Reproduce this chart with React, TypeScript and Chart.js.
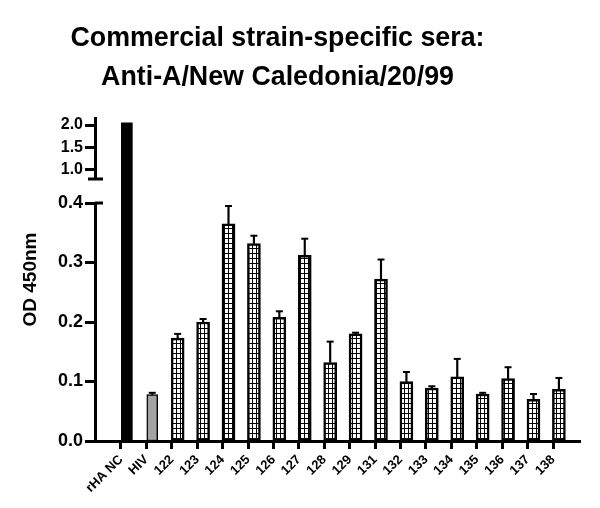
import React, { useEffect, useRef } from 'react';
import { Chart, registerables, LinearScale } from 'chart.js';

Chart.register(...registerables);

// ---------- data ----------
const TITLE_LINES = ['Commercial strain-specific sera:', 'Anti-A/New Caledonia/20/99'];
const Y_TITLE = 'OD 450nm';
const CATEGORIES = ['rHA NC', 'HIV', '122', '123', '124', '125', '126', '127', '128', '129', '131', '132', '133', '134', '135', '136', '137', '138'];
const MEANS = [2.05, 0.078, 0.173, 0.2, 0.365, 0.332, 0.208, 0.312, 0.132, 0.18, 0.272, 0.1, 0.089, 0.108, 0.079, 0.105, 0.07, 0.087];
const ERRORS = [0, 0.003, 0.007, 0.005, 0.03, 0.013, 0.01, 0.028, 0.035, 0.002, 0.033, 0.016, 0.003, 0.03, 0.002, 0.019, 0.009, 0.019];
const LOWER_TICKS = [0, 0.1, 0.2, 0.3, 0.4];
const UPPER_TICKS = [1.0, 1.5, 2.0];
const LOWER_RANGE = [0, 0.4];
const UPPER_RANGE = [0.78, 2.16];
const X_RANGE = [-1.023, 18.06];

const FONT = '"Liberation Sans", Arial, sans-serif';
const BAR_SHIFT = 0.23;

// piecewise scale mapping across the axis break
class BrokenScale extends LinearScale {
  static id = 'broken';
  static defaults = LinearScale.defaults;
  getPixelForValue(value: number) {
    const lo: any = (this as any).chart.scales.yLow;
    const hi: any = (this as any).chart.scales.yHigh;
    if (!lo || !hi) return super.getPixelForValue(value);
    if (value <= lo.max) return lo.getPixelForValue(value);
    if (value >= hi.min) return hi.getPixelForValue(value);
    const t = (value - lo.max) / (hi.min - lo.max);
    return lo.top + t * (hi.bottom - lo.top);
  }
}
Chart.register(BrokenScale as any);

function makeGridPattern(ctx: CanvasRenderingContext2D) {
  const c = document.createElement('canvas');
  c.width = 4;
  c.height = 5;
  const g = c.getContext('2d')!;
  g.fillStyle = '#ffffff';
  g.fillRect(0, 0, 4, 5);
  g.fillStyle = '#000000';
  g.fillRect(0, 0, 4, 1);
  g.fillRect(0, 0, 1, 5);
  return ctx.createPattern(c, 'repeat');
}

const titlePlugin = {
  id: 'offsetTitle',
  afterDraw(chart: any) {
    const ctx = chart.ctx;
    ctx.save();
    ctx.font = `bold 26.8px ${FONT}`;
    ctx.fillStyle = '#000';
    ctx.textAlign = 'center';
    ctx.textBaseline = 'alphabetic';
    ctx.fillText(TITLE_LINES[0], 269.5, 38);
    ctx.fillText(TITLE_LINES[1], 269.5, 77);
    ctx.restore();
  },
};

const axisBreakPlugin = {
  id: 'axisBreak',
  afterDraw(chart: any) {
    const lo = chart.scales.yLow;
    const hi = chart.scales.yHigh;
    const x = chart.chartArea.left;
    const ctx = chart.ctx;
    ctx.save();
    ctx.strokeStyle = '#000';
    ctx.lineWidth = 3;
    ctx.beginPath();
    ctx.moveTo(x - 7, hi.bottom);
    ctx.lineTo(x + 8, hi.bottom);
    ctx.moveTo(x, lo.top);
    ctx.lineTo(x + 8, lo.top);
    ctx.stroke();
    ctx.restore();
  },
};

function fixWidth(w: number) {
  return (scale: any) => {
    scale.width = w;
    scale.paddingTop = 0;
    scale.paddingBottom = 0;
  };
}

export default function App() {
  const ref = useRef<HTMLCanvasElement>(null);

  useEffect(() => {
    const canvas = ref.current!;
    const ctx = canvas.getContext('2d')!;
    const pattern = makeGridPattern(ctx);

    const ctrlIdx = [0, 1];
    const sampleIdx = CATEGORIES.map((_, i) => i).filter((i) => i >= 2);
    const errIdx = CATEGORIES.map((_, i) => i).filter((i) => ERRORS[i] > 0);

    const chart = new Chart(ctx, {
      type: 'bar',
      data: {
        datasets: [
          {
            type: 'bar',
            data: ctrlIdx.map((i) => ({ x: i + BAR_SHIFT, y: MEANS[i] })),
            backgroundColor: ['#000000', '#a3a3a3'],
            borderColor: '#000',
            borderWidth: [0, 1.5],
            borderSkipped: false,
            barThickness: 11,
            grouped: false,
            yAxisID: 'yb',
            order: 0,
          } as any,
          {
            type: 'bar',
            data: sampleIdx.map((i) => ({ x: i + BAR_SHIFT, y: MEANS[i] })),
            backgroundColor: pattern as any,
            borderColor: '#000',
            borderWidth: 2.5,
            borderSkipped: false,
            barThickness: 13,
            grouped: false,
            yAxisID: 'yb',
            order: 0,
          } as any,
          {
            type: 'bar',
            data: errIdx.map((i) => ({ x: i + BAR_SHIFT, y: [MEANS[i], MEANS[i] + ERRORS[i]] })),
            backgroundColor: '#000',
            borderWidth: 0,
            barThickness: 1.5,
            grouped: false,
            yAxisID: 'yb',
            order: 2,
          } as any,
          {
            type: 'line',
            data: errIdx.map((i) => ({ x: i + BAR_SHIFT, y: MEANS[i] + ERRORS[i] })),
            showLine: false,
            pointStyle: 'line',
            pointRadius: 3.5,
            pointBorderWidth: 2,
            pointBorderColor: '#000',
            pointBackgroundColor: '#000',
            yAxisID: 'yb',
            order: 1,
          } as any,
        ],
      },
      options: {
        responsive: false,
        animation: false,
        devicePixelRatio: 1,
        events: [],
        layout: { padding: { top: 110, right: 12, left: 0, bottom: 0 } },
        plugins: { legend: { display: false }, tooltip: { enabled: false }, title: { display: false } },
        scales: {
          x: {
            type: 'linear',
            min: X_RANGE[0],
            max: X_RANGE[1],
            offset: false,
            afterBuildTicks: (s: any) => {
              s.ticks = CATEGORIES.map((_, i) => ({ value: i }));
            },
            afterFit: (s: any) => {
              s.height = 59;
              s.paddingLeft = 0;
              s.paddingRight = 0;
            },
            grid: { display: true, offset: false, drawOnChartArea: false, drawTicks: true, tickLength: 8, tickWidth: 3, tickColor: '#000' },
            border: { display: true, color: '#000', width: 3 },
            ticks: {
              autoSkip: false,
              minRotation: 45,
              maxRotation: 45,
              padding: 3,
              color: '#000',
              font: { family: FONT, size: 13, weight: 'bold' },
              callback: (v: any) => CATEGORIES[Math.round(Number(v))] ?? '',
            },
          },
          yb: {
            type: 'broken',
            position: 'left',
            weight: 10,
            min: 0,
            max: 2.2,
            afterFit: fixWidth(47),
            grid: { display: false },
            border: { display: false },
            ticks: { display: false },
            title: { display: true, text: Y_TITLE, color: '#000', font: { family: FONT, size: 19, weight: 'bold' }, padding: { top: 11.6, bottom: 0 } },
          },
          yLow: {
            type: 'linear',
            position: 'left',
            stack: 'ys',
            stackWeight: 238,
            min: LOWER_RANGE[0],
            max: LOWER_RANGE[1],
            afterBuildTicks: (s: any) => {
              s.ticks = LOWER_TICKS.map((v) => ({ value: v }));
            },
            afterFit: fixWidth(40),
            grid: { display: true, drawOnChartArea: false, tickLength: 10, tickWidth: 3, tickColor: '#000' },
            border: { display: true, color: '#000', width: 3 },
            ticks: { autoSkip: false, padding: 2, color: '#000', font: { family: FONT, size: 18, weight: 'bold' }, callback: (v: any) => Number(v).toFixed(1) },
          },
          yGap: {
            type: 'linear',
            position: 'left',
            stack: 'ys',
            stackWeight: 24,
            min: 0,
            max: 1,
            afterFit: fixWidth(40),
            grid: { display: false },
            border: { display: false },
            ticks: { display: false },
          },
          yHigh: {
            type: 'linear',
            position: 'left',
            stack: 'ys',
            stackWeight: 61,
            min: UPPER_RANGE[0],
            max: UPPER_RANGE[1],
            afterBuildTicks: (s: any) => {
              s.ticks = UPPER_TICKS.map((v) => ({ value: v }));
            },
            afterFit: fixWidth(40),
            grid: { display: true, drawOnChartArea: false, tickLength: 10, tickWidth: 3, tickColor: '#000' },
            border: { display: true, color: '#000', width: 3 },
            ticks: { autoSkip: false, padding: 2, color: '#000', font: { family: FONT, size: 16, weight: 'bold' }, callback: (v: any) => Number(v).toFixed(1) },
          },
        } as any,
      },
      plugins: [titlePlugin, axisBreakPlugin],
    } as any);

    return () => chart.destroy();
  }, []);

  return <canvas ref={ref} width={584} height={492} style={{ display: 'block' }} />;
}
